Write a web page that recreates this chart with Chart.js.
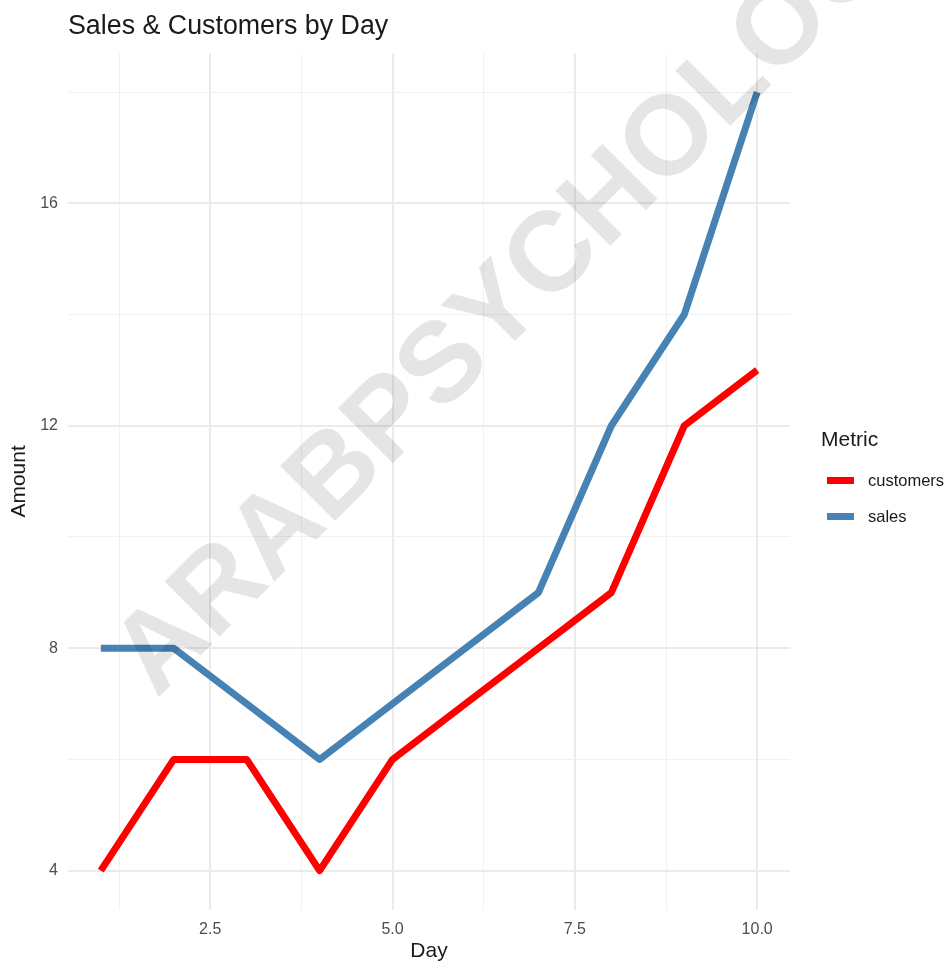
<!DOCTYPE html>
<html>
<head>
<meta charset="utf-8">
<title>Sales & Customers by Day</title>
<script src="https://cdn.jsdelivr.net/npm/chart.js@4.4.0/dist/chart.umd.min.js"></script>
<style>
  html, body { margin: 0; padding: 0; background: #ffffff; }
  #wrap { width: 948px; height: 965px; position: relative; }
</style>
</head>
<body>
<div id="wrap"><canvas id="chart"></canvas></div>
<script>
// Data
const days = [1, 2, 3, 4, 5, 6, 7, 8, 9, 10];
const customers = [4, 6, 6, 4, 6, 7, 8, 9, 12, 13];
const sales = [8, 8, 7, 6, 7, 8, 9, 12, 14, 18];

// Axis ticks (major ticks get labels, minor ticks only get grid lines)
const xMajorTicks = [2.5, 5, 7.5, 10];
const xMinorTicks = [1.25, 3.75, 6.25, 8.75];
const yMajorTicks = [4, 8, 12, 16];
const yMinorTicks = [6, 10, 14, 18];

const seriesNames = ['customers', 'sales'];
const seriesColors = ['#ff0000', '#4682b4'];

const FONT = "'Liberation Sans', Arial, Helvetica, sans-serif";
Chart.defaults.font.family = FONT;

const gridColor = (majors) => (ctx) => majors.includes(ctx.tick.value) ? '#ebebeb' : '#f1f1f1';
const gridWidth = (majors) => (ctx) => majors.includes(ctx.tick.value) ? 2 : 1;

// Legend on the right, ggplot style
const metricLegend = {
    id: 'metricLegend',
    afterDraw(chart) {
        const ctx = chart.ctx;
        ctx.save();
        ctx.fillStyle = '#1a1a1a';
        ctx.textAlign = 'left';
        ctx.textBaseline = 'middle';
        ctx.font = '21px ' + FONT;
        ctx.fillText('Metric', 821, 440);
        chart.data.datasets.forEach((ds, i) => {
            const y = 480.5 + i * 36;
            ctx.strokeStyle = ds.borderColor;
            ctx.lineWidth = 7;
            ctx.lineCap = 'butt';
            ctx.beginPath();
            ctx.moveTo(827, y);
            ctx.lineTo(854, y);
            ctx.stroke();
            ctx.fillStyle = '#1a1a1a';
            ctx.font = '16.5px ' + FONT;
            ctx.fillText(ds.label, 868, y + 1);
        });
        ctx.restore();
    }
};

// Diagonal watermark drawn over everything
const watermark = {
    id: 'watermark',
    afterDraw(chart) {
        const ctx = chart.ctx;
        ctx.save();
        ctx.translate(554, 302);
        ctx.rotate(-Math.PI / 4);
        ctx.font = 'bold 113px ' + FONT;
        ctx.fillStyle = 'rgba(0, 0, 0, 0.1)';
        ctx.textAlign = 'center';
        ctx.textBaseline = 'alphabetic';
        ctx.fillText('ARABPSYCHOLOGY', 0, 0);
        ctx.restore();
    }
};

const ctx = document.getElementById('chart').getContext('2d');
const chart = new Chart(ctx, {
    type: 'line',
    data: {
        datasets: [
            {
                label: seriesNames[0],
                data: days.map((d, i) => ({ x: d, y: customers[i] })),
                borderColor: seriesColors[0],
                borderWidth: 7,
                borderCapStyle: 'butt',
                borderJoinStyle: 'round',
                pointRadius: 0,
                tension: 0,
                fill: false
            },
            {
                label: seriesNames[1],
                data: days.map((d, i) => ({ x: d, y: sales[i] })),
                borderColor: seriesColors[1],
                borderWidth: 7,
                borderCapStyle: 'butt',
                borderJoinStyle: 'round',
                pointRadius: 0,
                tension: 0,
                fill: false
            }
        ]
    },
    options: {
        responsive: true,
        maintainAspectRatio: false,
        devicePixelRatio: 1,
        animation: false,
        layout: {
            padding: { left: 0, right: 158, top: 0, bottom: 0 }
        },
        plugins: {
            legend: { display: false },
            tooltip: { enabled: false },
            title: {
                display: true,
                text: 'Sales & Customers by Day',
                align: 'start',
                fullSize: false,
                color: '#1a1a1a',
                font: { size: 26.8, weight: 'normal' },
                padding: { top: 11, bottom: 10 }
            }
        },
        scales: {
            x: {
                type: 'linear',
                min: 0.55,
                max: 10.45,
                afterBuildTicks: (scale) => {
                    scale.ticks = xMinorTicks.concat(xMajorTicks)
                        .sort((a, b) => a - b)
                        .map(v => ({ value: v }));
                },
                ticks: {
                    autoSkip: false,
                    maxRotation: 0,
                    padding: 10,
                    color: '#4d4d4d',
                    font: { size: 16 },
                    callback: (v) => xMajorTicks.includes(v) ? v.toFixed(1) : ''
                },
                grid: {
                    drawTicks: false,
                    color: gridColor(xMajorTicks),
                    lineWidth: gridWidth(xMajorTicks)
                },
                border: { display: false },
                title: {
                    display: true,
                    text: 'Day',
                    color: '#1a1a1a',
                    font: { size: 21 },
                    padding: { top: -10, bottom: 1 }
                }
            },
            y: {
                type: 'linear',
                min: 3.3,
                max: 18.7,
                afterBuildTicks: (scale) => {
                    scale.ticks = yMajorTicks.concat(yMinorTicks)
                        .sort((a, b) => a - b)
                        .map(v => ({ value: v }));
                },
                ticks: {
                    autoSkip: false,
                    padding: 10,
                    color: '#4d4d4d',
                    font: { size: 16 },
                    callback: (v) => yMajorTicks.includes(v) ? String(v) : ''
                },
                grid: {
                    drawTicks: false,
                    color: gridColor(yMajorTicks),
                    lineWidth: gridWidth(yMajorTicks)
                },
                border: { display: false },
                title: {
                    display: true,
                    text: 'Amount',
                    color: '#1a1a1a',
                    font: { size: 21 },
                    padding: { top: 7, bottom: -2 }
                }
            }
        }
    },
    plugins: [metricLegend, watermark]
});
</script>
</body>
</html>
